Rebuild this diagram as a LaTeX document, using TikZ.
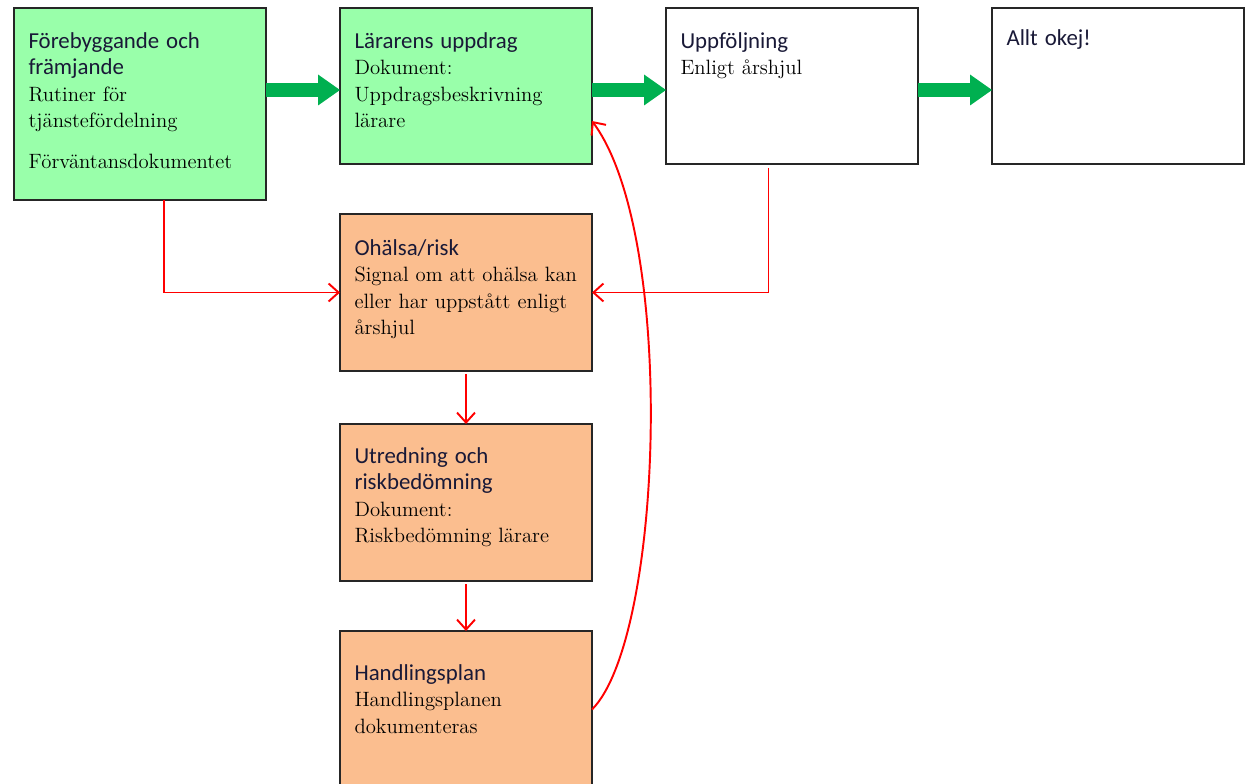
\documentclass[tikz,border=0pt]{standalone}
\usepackage{fontspec}
\newfontfamily\headfont{Carlito}
\usetikzlibrary{positioning,arrows.meta}

\definecolor{boxgreen}{RGB}{153,255,170}
\definecolor{boxorange}{RGB}{251,190,143}
\definecolor{arrowgreen}{RGB}{0,176,80}
\definecolor{headblue}{RGB}{25,25,55}

\newcommand{\hd}[1]{{\headfont\fontsize{13}{15}\selectfont\color{headblue}#1}}

\begin{document}
\begin{tikzpicture}[>={Straight Barb[length=0.2cm,width=0.36cm]}, node distance=1.48cm,
                    semithick]
  \tikzstyle{box}=[draw=black!85, line width=0.8pt, fill=white, rectangle, anchor=north west,
                   minimum width=5.04cm, minimum height=3.12cm, inner sep=0pt, outer sep=0pt]
  \tikzstyle{txt}=[anchor=north west, inner sep=0pt, text width=4.7cm, align=left,
                   font=\fontsize{11.8}{15}\selectfont,
                   execute at begin node={\rule{0pt}{0.42cm}}]
  \tikzstyle{bigarrow}=[draw=arrowgreen, line width=0.28cm,
                        -{Triangle[length=0.44cm,width=0.62cm,line width=0pt]}]
  \tikzstyle{redline}=[draw=red, line width=1.1pt, ->]

  \useasboundingbox (0,0) rectangle (24.9,-15.68);

	% top row
	\node[box, fill=boxgreen, minimum height=3.84cm]	(forebygg) at (0.28,-0.16)	{};
	\node[box, fill=boxgreen]	(uppdrag) [right=of forebygg.north east, anchor=north west]	{};
	\node[box]				(uppfolj) [right=of uppdrag.north east, anchor=north west]	{};
	\node[box]				(okej) [right=of uppfolj.north east, anchor=north west]	{};
	% column under uppdrag
	\node[box, fill=boxorange, minimum height=3.14cm]	(ohalsa) [below=1.0cm of uppdrag, anchor=north]	{};
	\node[box, fill=boxorange, minimum height=3.14cm]	(utredning) [below=1.06cm of ohalsa, anchor=north]	{};
	\node[box, fill=boxorange, minimum height=3.14cm]	(handling) [below=1.0cm of utredning, anchor=north]	{};

	\node[txt] (forebygg-t) at ([shift={(0.28cm,-0.38cm)}]forebygg.north west)
		{\hd{Förebyggande och\\ främjande}\\ Rutiner för\\ tjänstefördelning\\[0.3cm] Förväntansdokumentet};
	\node[txt] (uppdrag-t) at ([shift={(0.28cm,-0.38cm)}]uppdrag.north west)
		{\hd{Lärarens uppdrag}\\ Dokument:\\ Uppdragsbeskrivning\\ lärare};
	\node[txt] (uppfolj-t) at ([shift={(0.28cm,-0.38cm)}]uppfolj.north west)
		{\hd{Uppföljning}\\ Enligt årshjul};
	\node[txt] (okej-t) at ([shift={(0.28cm,-0.32cm)}]okej.north west)
		{\hd{Allt okej!}};
	\node[txt] (ohalsa-t) at ([shift={(0.28cm,-0.4cm)}]ohalsa.north west)
		{\hd{Ohälsa/risk}\\ Signal om att ohälsa kan\\ eller har uppstått enligt\\ årshjul};
	\node[txt] (utredning-t) at ([shift={(0.28cm,-0.36cm)}]utredning.north west)
		{\hd{Utredning och\\ riskbedömning}\\ Dokument:\\ Riskbedömning lärare};
	\node[txt] (handling-t) at ([shift={(0.28cm,-0.56cm)}]handling.north west)
		{\hd{Handlingsplan}\\ Handlingsplanen\\ dokumenteras};

	% green flow
	\draw[bigarrow] ([yshift=-0.08cm]uppdrag.west -| forebygg.east) -- ([yshift=-0.08cm]uppdrag.west);
	\draw[bigarrow] ([yshift=-0.08cm]uppdrag.east) -- ([yshift=-0.08cm]uppfolj.west);
	\draw[bigarrow] ([yshift=-0.08cm]uppfolj.east) -- ([yshift=-0.08cm]okej.west);

	% red flow
	\draw[redline] ([xshift=0.48cm]forebygg.south) |- (ohalsa.west);
	\draw[redline] ([xshift=-0.47cm,yshift=-0.08cm]uppfolj.south) |- (ohalsa.east);
	\draw[redline] ([yshift=-0.06cm]ohalsa.south) -- (utredning.north);
	\draw[redline] ([yshift=-0.06cm]utredning.south) -- (handling.north);
	\draw[redline] (handling.east) .. controls +(1.42,1.42) and +(1.7,-2.3) .. ([yshift=0.86cm]uppdrag.south east);

\end{tikzpicture}
\end{document}
